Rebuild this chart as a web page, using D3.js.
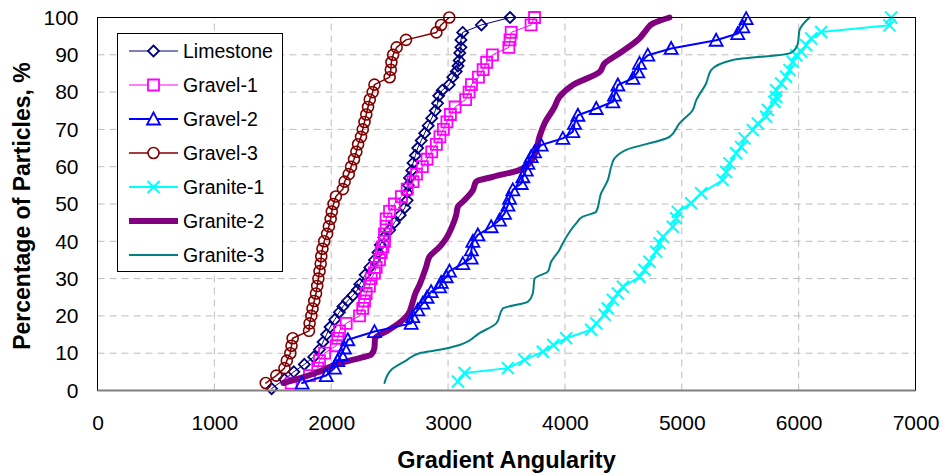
<html>
<head>
<script src="https://d3js.org/d3.v7.min.js"></script>
<style>
  body { margin: 0; background: #fff; }
  text { font-family: "Liberation Sans", Arial, sans-serif; }
</style>
</head>
<body>
<svg id="chart" width="946" height="476"></svg>
<script>
// Gradient angularity (x) vs cumulative percentage of particles (y)
var limestoneAng = [1490, 1600, 1680, 1770, 1850, 1900, 1930, 1960, 1990, 2030, 2070, 2100, 2140, 2185, 2225, 2245, 2290, 2330, 2370, 2400, 2420, 2450, 2500, 2540, 2590, 2630, 2650, 2650, 2660, 2670, 2690, 2700, 2720, 2740, 2770, 2800, 2830, 2860, 2890, 2910, 2920, 2950, 3010, 3040, 3070, 3085, 3095, 3100, 3110, 3110, 3125, 3285, 3530]
var limestonePct = [0.5, 3, 5, 7, 9, 11, 13, 15, 17, 19, 21, 22.5, 24, 25.5, 27, 28.5, 31, 33, 35, 37, 39, 41, 43, 45, 47, 49, 51, 53, 55, 57, 59, 61, 63, 65, 67, 69, 71, 73, 75, 77, 79, 80.5, 82, 84, 85.5, 87, 88.5, 90.5, 92, 94, 96, 98, 100]

var gravel1Ang = [1657, 1814, 1885, 1900, 1943, 2042, 2056, 2071, 2128, 2242, 2270, 2285, 2299, 2327, 2342, 2370, 2385, 2413, 2428, 2441, 2456, 2456, 2470, 2470, 2499, 2541, 2600, 2650, 2700, 2730, 2780, 2820, 2860, 2900, 2930, 2960, 2990, 3020, 3060, 3150, 3180, 3200, 3260, 3300, 3330, 3380, 3520, 3530, 3540, 3710, 3740]
var gravel1Pct = [2, 4, 6, 8, 10, 12, 14, 16, 18, 20, 22, 24, 26, 28, 30, 31.5, 33, 35, 37, 38.5, 40, 42, 44, 46, 48, 50, 52, 54, 56, 58, 60, 62, 64, 66, 68, 70, 72, 74, 76, 78, 80, 82, 84, 86, 88, 90, 92, 94, 96, 98, 100]

var gravel2Ang = [1751, 1957, 2028, 2056, 2085, 2113, 2142, 2370, 2684, 2698, 2741, 2784, 2820, 2855, 2927, 2941, 2984, 3012, 3126, 3198, 3200, 3212, 3255, 3369, 3440, 3483, 3512, 3526, 3554, 3626, 3640, 3669, 3683, 3711, 3740, 3797, 3982, 4068, 4082, 4111, 4268, 4410, 4424, 4453, 4581, 4624, 4638, 4709, 4909, 5294, 5479, 5522, 5551]
var gravel2Pct = [2, 4, 6, 8, 9.6, 11.4, 13.6, 15.8, 18, 19.8, 21.6, 23.4, 25, 26.5, 27.8, 29, 30.5, 32, 34, 35.5, 37.7, 40, 41.7, 43.9, 45.7, 47.5, 49.7, 51.5, 53.8, 55.5, 57.3, 59.1, 60.9, 62.7, 64, 65.8, 67.6, 69.4, 71.6, 73.8, 75.6, 77.4, 79.2, 81.9, 83.7, 85.4, 87.7, 89.9, 91.7, 93.9, 95.7, 97.5, 99.7]

var gravel3Ang = [1440, 1530, 1600, 1620, 1650, 1660, 1670, 1810, 1815, 1830, 1840, 1855, 1870, 1880, 1890, 1900, 1910, 1915, 1925, 1940, 1965, 1980, 1995, 2005, 2020, 2040, 2100, 2115, 2150, 2170, 2195, 2215, 2230, 2255, 2270, 2285, 2300, 2315, 2330, 2355, 2370, 2500, 2510, 2515, 2530, 2560, 2640, 2900, 2940, 3010]
var gravel3Pct = [2, 4, 6, 8, 10, 12, 14, 16, 18, 20, 22, 24, 26, 28, 30, 32, 34, 36, 38, 40, 42, 44, 46, 48, 50, 52, 54, 56, 58, 60, 62, 64, 66, 68, 70, 72, 74, 76, 78, 80, 82, 84, 86, 88, 90, 92, 94, 96, 98, 100]

var granite1Ang = [3084, 3141, 3512, 3654, 3811, 3900, 4011, 4224, 4268, 4339, 4367, 4410, 4453, 4496, 4638, 4681, 4724, 4781, 4809, 4838, 4923, 4952, 4966, 5080, 5166, 5351, 5380, 5408, 5465, 5508, 5537, 5608, 5651, 5722, 5737, 5793, 5808, 5808, 5851, 5893, 5922, 5950, 5979, 6022, 6064, 6107, 6193, 6777, 6792]
var granite1Pct = [2.4, 4.7, 6, 8.2, 10.4, 12.2, 14, 16.3, 18, 20.3, 22, 24.3, 26, 27.8, 30.5, 32.3, 34.5, 37.2, 39.5, 41.2, 43.9, 46.2, 47.9, 50.2, 52.9, 56.4, 58.6, 60.9, 63.6, 65.3, 67.6, 69.8, 71.6, 73.4, 75.2, 77.4, 78.7, 80.5, 82.3, 84.1, 85.9, 88.1, 89.9, 90.8, 92.6, 94.4, 96.1, 97.9, 100]

var granite2Ang = [1590, 1700, 1850, 2070, 2242, 2342, 2370, 2375, 2470, 2598, 2655, 2698, 2720, 2755, 2813, 2841, 2927, 2984, 3040, 3069, 3084, 3126, 3212, 3240, 3383, 3611, 3720, 3754, 3782, 3825, 3911, 3953, 4068, 4296, 4339, 4467, 4638, 4695, 4752, 4895]
var granite2Pct = [2, 3, 4.5, 7.3, 8.7, 9.6, 11.4, 14, 15.8, 18.5, 20.3, 23.8, 26, 28.3, 33.2, 35.9, 38.5, 40.8, 44.4, 47, 49.3, 50.6, 53.7, 56, 57.3, 59.1, 62, 64.5, 68, 71.6, 76, 78.7, 81.9, 85.4, 87.7, 90.4, 94.4, 96.6, 98.4, 100]

var granite3Ang = [2456, 2513, 2640, 2755, 2927, 3098, 3269, 3412, 3469, 3683, 3725, 3740, 3854, 3882, 3953, 3982, 4096, 4153, 4267, 4310, 4367, 4396, 4424, 4524, 4895, 4980, 5094, 5123, 5208, 5251, 5437, 5922, 5975, 5993, 6007, 6093]
var granite3Pct = [2, 5.5, 8, 10, 10.9, 12.2, 15.4, 18, 22, 23.8, 26, 30, 31.9, 34.5, 37.7, 39.5, 44.8, 46.6, 47.9, 52.9, 56.4, 60, 62.2, 64.5, 68, 71.6, 75.2, 77.8, 82.3, 85.9, 88.6, 90.4, 91.7, 93, 96.6, 100]

var xTicks = [0, 1000, 2000, 3000, 4000, 5000, 6000, 7000]
var yTicks = [0, 10, 20, 30, 40, 50, 60, 70, 80, 90, 100]

var series = [
  {name: "Limestone", ang: limestoneAng, pct: limestonePct, color: "#000080", width: 1, marker: "diamond"},
  {name: "Gravel-1", ang: gravel1Ang, pct: gravel1Pct, color: "#ff00ff", width: 1, marker: "square"},
  {name: "Gravel-2", ang: gravel2Ang, pct: gravel2Pct, color: "#0000ff", width: 2, marker: "triangle"},
  {name: "Gravel-3", ang: gravel3Ang, pct: gravel3Pct, color: "#800000", width: 1.5, marker: "circle"},
  {name: "Granite-1", ang: granite1Ang, pct: granite1Pct, color: "#00ffff", width: 2, marker: "cross"},
  {name: "Granite-2", ang: granite2Ang, pct: granite2Pct, color: "#800080", width: 6, marker: null, smooth: true},
  {name: "Granite-3", ang: granite3Ang, pct: granite3Pct, color: "#008080", width: 2, marker: null, smooth: true}
]
// draw order: thick purple goes under the blue triangles
var drawOrder = [0, 1, 5, 2, 3, 4, 6]

var svg = d3.select("#chart")
var x = d3.scaleLinear().domain([0, 7000]).range([97.5, 915.5])
var y = d3.scaleLinear().domain([0, 100]).range([390.5, 17.5])

// grid
svg.append("g").selectAll("line.h")
  .data(yTicks.filter(d => d > 0 && d < 100))
  .enter().append("line")
  .attr("x1", x(0)).attr("x2", x(7000))
  .attr("y1", d => y(d)).attr("y2", d => y(d))
  .attr("stroke", "#bdbdbd").attr("stroke-width", 1).attr("stroke-dasharray", "7,5")
svg.append("g").selectAll("line.v")
  .data(xTicks.filter(d => d > 0 && d < 7000))
  .enter().append("line")
  .attr("y1", y(0)).attr("y2", y(100))
  .attr("x1", d => x(d)).attr("x2", d => x(d))
  .attr("stroke", "#bdbdbd").attr("stroke-width", 1).attr("stroke-dasharray", "7,5")

// axes (labels only)
svg.append("g")
  .attr("transform", "translate(" + x(0) + ",0)")
  .call(d3.axisLeft(y).tickValues(yTicks).tickSize(0).tickPadding(19))
svg.append("g")
  .attr("transform", "translate(0," + y(0) + ")")
  .call(d3.axisBottom(x).tickValues(xTicks).tickSize(0).tickPadding(25).tickFormat(d3.format("d")))
svg.selectAll(".domain").remove()
svg.selectAll(".tick text").attr("font-size", 21).attr("fill", "#000")
  .attr("font-family", "Liberation Sans, Arial, sans-serif")

function markerPath(type, s) {
  if (type == "diamond") return "M0," + (-s) + "L" + s + ",0L0," + s + "L" + (-s) + ",0Z"
  if (type == "square") return "M" + (-s) + "," + (-s) + "h" + (2 * s) + "v" + (2 * s) + "h" + (-2 * s) + "Z"
  if (type == "triangle") return "M0," + (-s - 1) + "L" + (s + 1) + "," + s + "L" + (-s - 1) + "," + s + "Z"
  if (type == "cross") return "M" + (-s) + "," + (-s) + "L" + s + "," + s + "M" + s + "," + (-s) + "L" + (-s) + "," + s
  return ""
}

function drawMarkers(g, s, pts) {
  if (!s.marker) return
  if (s.marker == "circle") {
    g.selectAll("circle").data(pts).enter().append("circle")
      .attr("cx", d => x(d[0])).attr("cy", d => y(d[1])).attr("r", 5.5)
      .attr("fill", "none").attr("stroke", s.color).attr("stroke-width", 1.6)
    return
  }
  var size = s.marker == "cross" ? 6 : 5.5
  g.selectAll("path.m").data(pts).enter().append("path")
    .attr("class", "m")
    .attr("transform", d => "translate(" + x(d[0]) + "," + y(d[1]) + ")")
    .attr("d", markerPath(s.marker, size))
    .attr("fill", "none").attr("stroke", s.color)
    .attr("stroke-width", s.marker == "cross" ? 2 : 1.8)
}

var plot = svg.append("g")
drawOrder.forEach(function (i) {
  var s = series[i]
  var pts = s.ang.map((a, k) => [a, s.pct[k]])
  var g = plot.append("g")
  var line = d3.line().x(d => x(d[0])).y(d => y(d[1]))
  if (s.smooth) line.curve(d3.curveMonotoneY)
  g.append("path")
    .attr("d", line(pts))
    .attr("fill", "none").attr("stroke", s.color).attr("stroke-width", s.width)
    .attr("stroke-linejoin", "round").attr("stroke-linecap", "round")
  drawMarkers(g, s, pts)
})

// plot frame
svg.append("rect")
  .attr("x", x(0)).attr("y", y(100))
  .attr("width", x(7000) - x(0)).attr("height", y(0) - y(100))
  .attr("fill", "none").attr("stroke", "#000").attr("stroke-width", 1)
svg.append("line")
  .attr("x1", x(0)).attr("x2", x(7000)).attr("y1", y(0)).attr("y2", y(0))
  .attr("stroke", "#808080").attr("stroke-width", 2)

// legend
var legend = svg.append("g")
legend.append("rect")
  .attr("x", 117.5).attr("y", 33.5).attr("width", 165).attr("height", 238)
  .attr("fill", "#fff").attr("stroke", "#000").attr("stroke-width", 1)
series.forEach(function (s, i) {
  var ly = 51 + i * 34
  var row = legend.append("g")
  row.append("line").attr("x1", 129).attr("x2", 178).attr("y1", ly).attr("y2", ly)
    .attr("stroke", s.color).attr("stroke-width", s.width)
  if (s.marker == "circle") {
    row.append("circle").attr("cx", 153.5).attr("cy", ly).attr("r", 5.5)
      .attr("fill", "#fff").attr("stroke", s.color).attr("stroke-width", 1.6)
  } else if (s.marker) {
    row.append("path").attr("transform", "translate(153.5," + ly + ")")
      .attr("d", markerPath(s.marker, s.marker == "cross" ? 6 : 5.5))
      .attr("fill", s.marker == "cross" ? "none" : "#fff").attr("stroke", s.color)
      .attr("stroke-width", s.marker == "cross" ? 2 : 1.8)
  }
  row.append("text").attr("x", 183).attr("y", ly + 6.5)
    .attr("font-size", 19.5).text(s.name)
})

// axis titles
svg.append("text")
  .attr("x", x(3500)).attr("y", 468)
  .attr("text-anchor", "middle").attr("font-size", 23.5).attr("font-weight", "bold")
  .text("Gradient Angularity")
svg.append("text")
  .attr("transform", "translate(30,206) rotate(-90)")
  .attr("text-anchor", "middle").attr("font-size", 23).attr("font-weight", "bold")
  .text("Percentage of Particles, %")
</script>
</body>
</html>
